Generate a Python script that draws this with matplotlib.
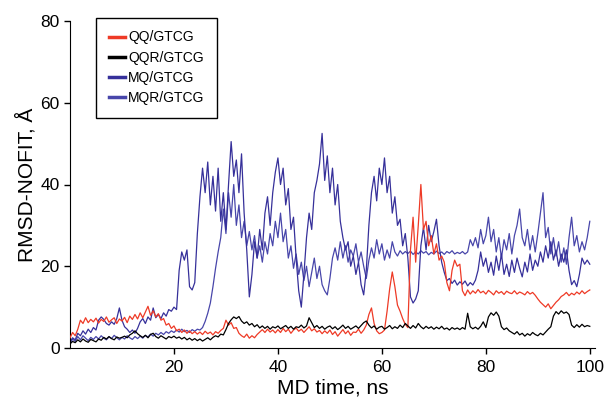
import numpy as np
import matplotlib
matplotlib.use("Agg")
import matplotlib.pyplot as plt

plt.rcParams['font.family'] = ['Liberation Sans', 'DejaVu Sans']

# MD time grid, ns (one sample every 0.5 ns)
time_ns = np.linspace(0, 100, 201)

series_names = ["QQ/GTCG", "QQR/GTCG", "MQ/GTCG", "MQR/GTCG"]

qq_gtcg = [
    2.5, 3.8, 3.0, 4.6, 6.8, 6.0, 7.4, 6.2, 7.0, 6.4,
    7.3, 6.1, 7.0, 6.5, 7.6, 6.3, 6.9, 7.4, 6.0, 7.1,
    6.6, 7.5, 6.2, 7.8, 7.0, 8.2, 7.1, 8.6, 7.4, 8.8,
    10.2, 8.0, 9.1, 7.6, 8.4, 6.8, 7.2, 5.6, 6.0, 4.8,
    5.4, 4.2, 4.6, 3.8, 4.4, 3.6, 4.2, 3.5, 4.0, 3.4,
    3.9, 3.3, 4.1, 3.5, 3.9, 3.2, 4.0, 3.6, 4.3, 4.8,
    6.8, 5.6, 6.2, 4.8, 5.0, 3.6, 3.0, 2.6, 3.4, 2.4,
    3.0, 2.5, 3.3, 3.9, 4.5, 3.8, 4.6, 3.9, 4.4, 3.7,
    4.5, 3.8, 4.8, 4.0, 4.6, 3.6, 4.4, 4.9, 4.1, 4.6,
    3.8, 4.5, 5.2, 4.2, 4.7, 3.9, 4.3, 3.5, 4.2, 3.6,
    4.4, 3.3, 4.0, 2.9, 3.7, 4.5, 3.5, 4.2, 3.1, 3.9,
    3.8, 4.6, 3.6, 4.4, 5.6, 8.2, 9.8, 6.0, 4.2, 3.5,
    3.8, 4.4, 9.0, 14.5, 18.6, 15.0, 10.5, 9.0, 7.2, 5.8,
    5.0, 24.0, 32.0, 21.0, 30.0, 40.0, 29.0, 31.0, 25.0, 27.5,
    23.0, 25.5, 21.5, 22.5, 21.0, 16.0, 14.0, 19.0, 21.5, 20.0,
    20.5, 14.0, 12.8, 14.2, 13.2, 14.0, 13.4, 14.3, 13.5, 13.9,
    13.2, 14.1, 13.6, 13.0, 14.0, 13.4, 13.8, 13.1, 13.9, 13.5,
    13.3, 14.0, 13.2, 13.7, 13.4, 13.0, 13.8, 13.2, 13.6, 12.9,
    12.0, 11.2, 10.6, 10.0, 10.8, 9.6, 10.4, 11.2, 11.8, 12.6,
    13.0, 13.6, 12.8, 13.4, 13.0, 13.7, 13.2, 14.0, 13.3, 13.8,
    14.2]

qqr_gtcg = [
    1.0, 1.6, 1.3, 2.0, 1.5, 2.2, 1.7, 1.4, 2.1, 1.8,
    1.5, 2.2, 1.9, 2.6, 2.2, 2.8, 2.3, 2.0, 2.7, 2.4,
    2.6, 2.9, 2.5, 3.2, 3.6, 4.2, 3.5, 3.0, 2.6, 3.1,
    2.5, 3.3, 3.6, 2.8, 2.4, 3.0, 2.6, 2.2, 2.8, 2.5,
    2.9, 2.4, 2.7, 2.2, 2.6, 2.0, 2.4, 1.9, 2.3, 1.8,
    2.2, 1.7, 2.1, 2.5, 2.0, 2.6, 3.0, 2.7, 3.4, 3.2,
    4.5, 6.0, 6.9, 7.6, 7.2, 7.7, 6.6, 6.0, 6.4, 5.6,
    6.0, 5.2, 5.7, 4.9, 5.4, 4.8, 5.3, 4.6, 5.2, 4.9,
    5.4, 4.7, 5.1, 5.5, 4.8, 5.3, 4.6, 5.2, 5.0, 5.6,
    4.9, 5.4, 7.4, 6.2, 5.0, 5.5, 4.8, 5.3, 4.6, 5.1,
    5.4, 4.7, 5.2, 4.5, 5.0, 5.6, 4.8, 5.3, 4.6, 5.0,
    5.4, 4.8, 5.5, 6.2, 6.6, 5.6, 4.9, 5.4, 4.6, 5.1,
    5.3, 4.6, 5.0, 5.5, 4.7, 5.2, 4.8, 5.6, 5.0, 6.0,
    5.4, 4.8, 5.5, 4.9, 6.0, 5.2, 4.7, 5.3, 4.8, 5.2,
    4.6, 5.1, 4.7, 5.3, 4.6, 4.9, 4.4, 5.0, 4.6, 4.9,
    4.5, 5.0, 4.6, 8.5, 5.2, 4.7, 5.1, 4.6, 5.3, 6.4,
    5.0, 7.6, 8.6, 8.0, 8.8, 7.8, 5.2, 4.5, 4.9, 4.2,
    3.8, 3.4, 4.0, 3.2, 3.6, 2.9, 3.5, 3.1, 3.8, 3.3,
    3.0, 3.6, 3.2, 3.9, 4.6, 5.2, 7.8, 8.9, 8.3, 9.1,
    8.5, 8.8, 8.2, 5.6, 5.0, 5.7, 5.1, 5.8, 5.2, 5.5,
    5.3]

mq_gtcg = [
    1.5, 2.5, 2.0, 3.6, 3.0, 4.2, 3.4, 4.6, 3.8, 5.0,
    4.4, 6.8, 7.6, 7.0, 6.0, 5.6, 6.4, 5.8, 7.2, 9.8,
    6.8, 5.2, 4.6, 3.8, 4.4, 3.6, 4.8, 6.4, 7.2, 6.0,
    7.6, 6.8, 9.8, 7.4, 8.2, 7.2, 8.6, 7.8, 9.4, 9.0,
    10.0, 9.4, 19.0, 23.5, 21.5, 24.0, 15.0, 14.2, 16.0, 28.0,
    37.0, 44.0, 38.0, 45.5, 35.0, 42.0, 33.5, 44.0, 31.0, 38.0,
    29.0, 40.0, 50.5, 42.0, 46.0, 38.0, 47.5, 33.0, 24.0, 12.5,
    18.0, 26.0, 22.0, 29.0, 24.0, 33.0, 37.0, 30.0, 38.0, 43.0,
    46.5, 40.0, 44.0, 35.0, 39.0, 29.0, 32.0, 22.0, 14.0, 10.0,
    18.0, 27.0, 33.0, 29.0, 38.0, 41.0, 45.0, 52.5, 41.0, 47.0,
    38.0, 44.0, 35.0, 40.0, 31.0, 27.0, 24.0, 26.0, 20.0, 22.5,
    18.0, 21.0, 15.5, 13.0, 19.0, 30.0, 38.0, 42.0, 36.0, 44.0,
    40.0, 46.5, 38.0, 42.0, 33.0, 37.0, 30.0, 31.5, 25.0, 28.0,
    22.0, 12.5, 11.0, 12.0, 14.0, 25.0, 29.5, 24.0, 30.0, 26.0,
    28.5, 31.5, 25.0, 21.0, 18.5, 16.5, 17.0, 15.8, 16.6, 15.4,
    16.2, 15.6, 16.4, 15.2, 16.0, 15.4, 16.6, 19.0, 23.5, 20.0,
    22.0, 18.5, 21.0, 17.8, 22.5, 19.0, 23.0, 18.0, 20.5, 17.5,
    21.5, 18.5, 22.0, 19.5, 17.4, 21.0, 18.6, 23.0, 19.0, 21.5,
    20.0, 23.5, 21.0, 25.0, 22.0, 26.0, 21.5, 24.0, 20.0, 23.0,
    21.0, 24.0, 19.0, 15.5, 16.5, 15.0, 18.0, 22.0, 20.5, 21.5,
    20.5]

mqr_gtcg = [
    1.0, 2.2, 1.6, 2.8, 2.0, 3.0, 2.4, 1.8, 2.6, 2.1,
    2.8, 2.2, 3.0, 2.4, 2.0, 2.7, 2.3, 3.1, 2.5, 2.0,
    2.6, 2.2, 3.0, 2.5, 2.1, 2.8, 2.3, 2.9, 2.4, 3.1,
    2.7, 3.4, 2.9, 3.6, 3.2, 3.8, 3.3, 4.0, 3.6, 4.2,
    3.8, 4.4, 3.9, 4.6, 4.0, 4.3, 3.8, 4.5, 4.1, 4.6,
    4.4, 5.0, 6.5, 8.5, 11.0, 15.0, 19.5, 23.5, 27.0, 34.0,
    28.0, 38.0, 32.0, 40.0, 30.0, 35.0, 27.0, 31.0, 25.0, 28.5,
    24.0, 27.5, 22.0, 25.0, 21.0, 26.0, 23.0, 28.0, 25.0, 31.0,
    27.0, 33.0, 26.0, 29.0, 22.0, 25.0, 19.5, 23.0, 18.0, 21.0,
    16.5, 20.0, 15.0, 18.5, 22.0, 17.0, 20.0, 15.5, 14.0, 13.0,
    17.0, 22.0, 24.5, 21.5, 26.0, 22.0, 25.0, 21.0, 24.0, 22.5,
    25.5, 21.0, 23.5, 20.0, 17.0, 21.5, 24.5, 22.0, 26.5, 23.0,
    25.5, 21.5, 24.0, 22.0, 26.0, 23.5, 22.5, 23.8, 23.0, 23.6,
    23.1, 23.7, 22.9, 23.5, 23.0, 23.8, 23.2, 23.6, 22.8, 23.4,
    23.0, 23.7, 23.1, 23.5, 22.9, 23.6, 23.2, 23.8, 23.0, 23.4,
    23.1, 23.6, 23.0, 23.5, 26.5, 25.0, 27.0, 24.5, 29.0, 25.5,
    27.5, 32.0, 26.0, 29.0, 23.5, 27.0, 22.0, 26.5, 24.0, 28.0,
    23.0, 27.5, 30.0, 34.0, 27.0, 25.0, 29.0, 24.0, 27.5, 23.5,
    28.0, 33.0, 38.0, 27.0, 29.5, 23.0, 27.0, 22.5, 26.0, 21.0,
    24.5, 20.5, 27.0, 32.0, 25.0, 27.5, 23.5, 26.0, 24.0, 27.0,
    31.0]

colors = ["#ee3a26", "#000000", "#36309a", "#4846aa"]
zorders = [3, 4, 2, 1]

fig = plt.figure(figsize=(6.06, 4.00), dpi=100)
ax = fig.add_axes([70 / 606, 52 / 400, 525 / 606, 327 / 400])

for name, vals, c, z in zip(series_names, [qq_gtcg, qqr_gtcg, mq_gtcg, mqr_gtcg], colors, zorders):
    ax.plot(time_ns, vals, color=c, lw=0.9, label=name, zorder=z)

ax.set_xlim(0, 101)
ax.set_ylim(0, 80)
ax.set_xticks([20, 40, 60, 80, 100])
ax.set_yticks([0, 20, 40, 60, 80])
ax.spines['top'].set_visible(False)
ax.spines['right'].set_visible(False)
ax.tick_params(direction='out', length=4, width=1, labelsize=12.5)
ax.tick_params(axis='x', pad=5)
ax.set_xlabel('MD time, ns', fontsize=15, labelpad=2)
ax.set_ylabel('RMSD-NOFIT, Å', fontsize=15, labelpad=3)

leg = ax.legend(loc='upper left', bbox_to_anchor=(26 / 525, 330 / 327), borderaxespad=0,
                fontsize=10, handlelength=1.2, handletextpad=0.2, labelspacing=0.45,
                borderpad=0.9, fancybox=False, edgecolor='black', framealpha=1)
leg.get_frame().set_linewidth(1.0)
for line in leg.get_lines():
    line.set_linewidth(2.5)

plt.savefig('out.png', dpi=100)
